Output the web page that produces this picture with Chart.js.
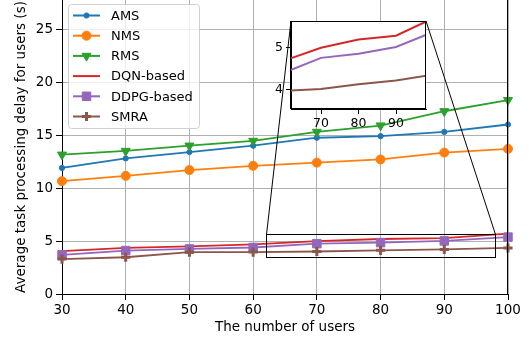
<!DOCTYPE html>
<html>
<head>
<meta charset="utf-8">
<script src="https://cdn.jsdelivr.net/npm/chart.js@4/dist/chart.umd.min.js"></script>
<style>
  html, body { margin: 0; padding: 0; background: #fff; }
  #wrap { position: relative; width: 530px; height: 343px; overflow: hidden; }
  #main { position: absolute; left: 0; top: 0; }
  #inset { position: absolute; left: 265px; top: 12px; }
</style>
</head>
<body>
<div id="wrap">
  <canvas id="main" width="530" height="343"></canvas>
  <canvas id="inset" width="170" height="125"></canvas>
</div>
<script>
// Number of users (x axis)
const users = [30, 40, 50, 60, 70, 80, 90, 100];

// Average task processing delay (s) per scheme
const ams  = [11.9, 12.8, 13.4, 14.0, 14.75, 14.9, 15.3, 16.0];
const nms  = [10.65, 11.15, 11.7, 12.1, 12.4, 12.7, 13.35, 13.7];
const rms  = [13.15, 13.5, 14.0, 14.45, 15.3, 15.9, 17.25, 18.3];
const dqn  = [4.05, 4.35, 4.5, 4.68, 4.99, 5.19, 5.28, 5.7];
const ddpg = [3.7, 4.1, 4.25, 4.39, 4.75, 4.85, 5.01, 5.37];
const smra = [3.3, 3.47, 3.95, 3.96, 4.01, 4.12, 4.21, 4.35];

const seriesNames = ['AMS', 'NMS', 'RMS', 'DQN-based', 'DDPG-based', 'SMRA'];
const seriesValues = [ams, nms, rms, dqn, ddpg, smra];

// Tick labels
const xTicks = [30, 40, 50, 60, 70, 80, 90, 100];
const yTicks = [0, 5, 10, 15, 20, 25];
const insetXTicks = [70, 80, 90];
const insetYTicks = [4, 5];

// Zoomed window shown in the inset
const zoomX = [62, 98];
const zoomY = [3.53, 5.63];

const FONT = "'DejaVu Sans', 'Liberation Sans', sans-serif";

// markers may overhang the plot edges; the layout should not shrink for them
Chart.LineController.prototype.getMaxOverflow = function () { return 0; };

const styles = [
  { color: '#1f77b4', pointStyle: 'circle',   radius: 2.6, rotation: 0,   pbw: 1 },
  { color: '#ff7f0e', pointStyle: 'circle',   radius: 4.5, rotation: 0,   pbw: 1 },
  { color: '#2ca02c', pointStyle: 'triangle', radius: 5.2, rotation: 180, pbw: 1 },
  { color: '#d62728', pointStyle: false,      radius: 0,   rotation: 0,   pbw: 1 },
  { color: '#9467bd', pointStyle: 'rect',     radius: 6,   rotation: 0,   pbw: 1 },
  { color: '#8c564b', pointStyle: 'cross',    radius: 4.6, rotation: 0,   pbw: 3 }
];

function points(vals) {
  return users.map((u, i) => ({ x: u, y: vals[i] }));
}

function setTicks(list) {
  return (scale) => { scale.ticks = list.map(v => ({ value: v })); };
}

// fixed axis box size, no extra label overflow padding
function fixSize(prop, size) {
  return (s) => {
    s[prop] = size;
    s.paddingTop = 0; s.paddingBottom = 0; s.paddingLeft = 0; s.paddingRight = 0;
  };
}

function crisp(v) { return Math.round(v) + 0.5; }

// ---------- inset chart ----------
const insetFrame = {
  id: 'insetFrame',
  beforeDraw(chart) {
    const a = chart.chartArea, ctx = chart.ctx;
    ctx.save();
    ctx.fillStyle = '#ffffff';
    ctx.fillRect(a.left, a.top, a.right - a.left, a.bottom - a.top);
    ctx.restore();
  },
  afterDraw(chart) {
    const a = chart.chartArea, ctx = chart.ctx;
    ctx.save();
    ctx.strokeStyle = '#000';
    ctx.lineWidth = 1;
    ctx.strokeRect(crisp(a.left) - 1, crisp(a.top), Math.round(a.right - a.left), Math.round(a.bottom - a.top) - 1);
    ctx.restore();
  }
};

const insetIdx = [3, 4, 5];
const insetChart = new Chart(document.getElementById('inset'), {
  type: 'line',
  data: {
    datasets: insetIdx.map((k, j) => ({
      label: seriesNames[k],
      data: points(seriesValues[k]),
      borderColor: styles[k].color,
      borderWidth: 2,
      pointRadius: 0,
      tension: 0,
      order: insetIdx.length - j
    }))
  },
  options: {
    responsive: false,
    animation: false,
    devicePixelRatio: 1,
    layout: { padding: { top: 9, right: 9, left: 0, bottom: 0 } },
    plugins: { legend: { display: false }, tooltip: { enabled: false } },
    scales: {
      x: {
        type: 'linear', min: zoomX[0], max: zoomX[1],
        afterBuildTicks: setTicks(insetXTicks),
        afterFit: fixSize('height', 28),
        grid: { display: true, drawOnChartArea: false, drawTicks: true, tickLength: 5, tickColor: '#000' },
        border: { display: true, color: '#000', width: 1 },
        ticks: { color: '#000', font: { family: FONT, size: 12.5 }, padding: 2, maxRotation: 0 }
      },
      y: {
        type: 'linear', min: zoomY[0], max: zoomY[1],
        afterBuildTicks: setTicks(insetYTicks),
        afterFit: fixSize('width', 26),
        grid: { display: true, drawOnChartArea: false, drawTicks: true, tickLength: 5, tickColor: '#000' },
        border: { display: true, color: '#000', width: 1 },
        ticks: { color: '#000', font: { family: FONT, size: 12.5 }, padding: 3 }
      }
    }
  },
  plugins: [insetFrame]
});

// ---------- main chart ----------
const INSET_LEFT = 265, INSET_TOP = 12;

const zoomMarks = {
  id: 'zoomMarks',
  afterDatasetsDraw(chart) {
    const ctx = chart.ctx, xs = chart.scales.x, ys = chart.scales.y;
    const l = crisp(xs.getPixelForValue(zoomX[0]));
    const r = crisp(xs.getPixelForValue(zoomX[1]));
    const t = crisp(ys.getPixelForValue(zoomY[1]));
    const b = crisp(ys.getPixelForValue(zoomY[0]));
    ctx.save();
    ctx.strokeStyle = '#000';
    ctx.lineWidth = 1;
    ctx.strokeRect(l, t, r - l, b - t);
    const ia = insetChart.chartArea;
    ctx.beginPath();
    ctx.moveTo(l, t);
    ctx.lineTo(INSET_LEFT + ia.left, INSET_TOP + ia.top);
    ctx.moveTo(r, t);
    ctx.lineTo(INSET_LEFT + ia.right, INSET_TOP + ia.top);
    ctx.stroke();
    ctx.restore();
  }
};

const frameAndLegend = {
  id: 'frameAndLegend',
  afterDraw(chart) {
    const ctx = chart.ctx, a = chart.chartArea;
    ctx.save();
    // right spine
    ctx.strokeStyle = '#000';
    ctx.lineWidth = 1;
    ctx.beginPath();
    ctx.moveTo(crisp(a.right) - 1, a.top);
    ctx.lineTo(crisp(a.right) - 1, a.bottom);
    ctx.stroke();

    // legend box
    const bx = 68.5, by = 4.5, bw = 131, bh = 124, rad = 3;
    ctx.beginPath();
    ctx.moveTo(bx + rad, by);
    ctx.lineTo(bx + bw - rad, by);
    ctx.arcTo(bx + bw, by, bx + bw, by + rad, rad);
    ctx.lineTo(bx + bw, by + bh - rad);
    ctx.arcTo(bx + bw, by + bh, bx + bw - rad, by + bh, rad);
    ctx.lineTo(bx + rad, by + bh);
    ctx.arcTo(bx, by + bh, bx, by + bh - rad, rad);
    ctx.lineTo(bx, by + rad);
    ctx.arcTo(bx, by, bx + rad, by, rad);
    ctx.closePath();
    ctx.fillStyle = 'rgba(255,255,255,0.8)';
    ctx.fill();
    ctx.strokeStyle = '#d0d0d0';
    ctx.stroke();

    ctx.font = '13px ' + FONT;
    ctx.textBaseline = 'middle';
    ctx.textAlign = 'left';
    seriesNames.forEach((name, i) => {
      const st = styles[i];
      const y = 15.5 + i * 20.2;
      ctx.strokeStyle = st.color;
      ctx.lineWidth = 2;
      ctx.beginPath();
      ctx.moveTo(73, y);
      ctx.lineTo(100, y);
      ctx.stroke();
      if (st.pointStyle) {
        ctx.fillStyle = st.color;
        ctx.strokeStyle = st.color;
        ctx.lineWidth = st.pbw;
        Chart.helpers.drawPoint(ctx, {
          pointStyle: st.pointStyle, radius: st.radius, rotation: st.rotation, borderWidth: st.pbw
        }, 86.5, y);
      }
      ctx.fillStyle = '#000';
      ctx.fillText(name, 111, y + 1);
    });
    ctx.restore();
  }
};

new Chart(document.getElementById('main'), {
  type: 'line',
  data: {
    datasets: seriesValues.map((vals, i) => ({
      label: seriesNames[i],
      data: points(vals),
      borderColor: styles[i].color,
      backgroundColor: styles[i].color,
      borderWidth: 1.8,
      pointStyle: styles[i].pointStyle,
      pointRadius: styles[i].radius,
      pointRotation: styles[i].rotation,
      pointBorderWidth: styles[i].pbw,
      pointBackgroundColor: styles[i].color,
      pointBorderColor: styles[i].color,
      tension: 0,
      clip: false,
      order: seriesValues.length - i
    }))
  },
  options: {
    responsive: false,
    animation: false,
    devicePixelRatio: 1,
    layout: { padding: { top: 0, right: 22, left: 0, bottom: 0 } },
    plugins: { legend: { display: false }, tooltip: { enabled: false } },
    scales: {
      x: {
        type: 'linear', min: 30, max: 100,
        afterBuildTicks: setTicks(xTicks),
        afterFit: fixSize('height', 49),
        grid: { color: '#b0b0b0', lineWidth: 1, drawTicks: true, tickLength: 6, tickColor: '#000' },
        border: { display: true, color: '#000', width: 1 },
        ticks: { color: '#000', font: { family: FONT, size: 13.5 }, padding: 2, maxRotation: 0 },
        title: { display: true, text: 'The number of users', color: '#000',
                 font: { family: FONT, size: 13.5 }, padding: { top: 0, bottom: 7 } }
      },
      y: {
        type: 'linear', min: 0, max: 27.75,
        afterBuildTicks: setTicks(yTicks),
        afterFit: fixSize('width', 62),
        grid: { color: '#b0b0b0', lineWidth: 1, drawTicks: true, tickLength: 6, tickColor: '#000' },
        border: { display: true, color: '#000', width: 1 },
        ticks: { color: '#000', font: { family: FONT, size: 13.5 }, padding: 3 },
        title: { display: true, text: 'Average task processing delay for users (s)', color: '#000',
                 font: { family: FONT, size: 13.5 }, padding: { top: 13, bottom: 0 } }
      }
    }
  },
  plugins: [zoomMarks, frameAndLegend]
});
</script>
</body>
</html>
